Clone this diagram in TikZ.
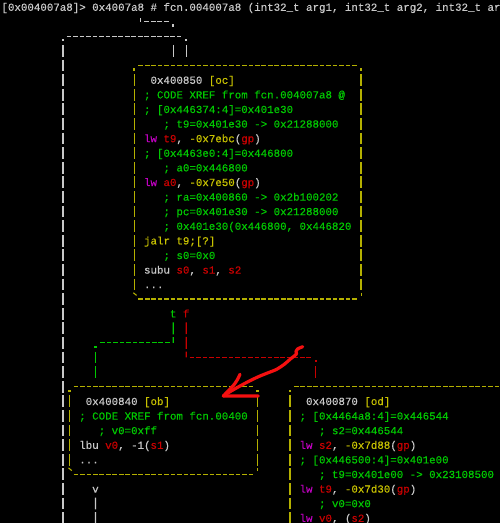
\documentclass[tikz,border=0pt]{standalone}
\usepackage{fontspec}
\newfontfamily\tfont{Liberation Mono}[FakeBold=0.35]
\definecolor{fgc}{RGB}{200,200,200}
\definecolor{ylc}{RGB}{200,194,0}
\definecolor{ybc}{RGB}{180,176,0}
\definecolor{gnc}{RGB}{0,200,0}
\definecolor{rdc}{RGB}{200,0,0}
\definecolor{mgc}{RGB}{190,0,190}
\definecolor{handc}{RGB}{245,16,16}
\newcommand\Rg[1]{\textcolor{rdc}{#1}}
\newcommand\Yl[1]{\textcolor{ylc}{#1}}
\newcommand\Mg[1]{\textcolor{mgc}{#1}}
\newcounter{lnc}
\newcommand\tline[4][fgc]{\stepcounter{lnc}\node[txt,text=#1] (L\arabic{lnc}) at ({#2-0.5},{#3+0.26}) {#4};}
\newcommand\boxborder[2]{%
  \draw[hd,#2] ([xshift=4.0pt]#1.north west) -- ([xshift=-3.24pt]#1.north east);
  \draw[hd,#2] ([xshift=4.0pt]#1.south west) -- ([xshift=-3.24pt]#1.south east);
  \draw[vd,#2] ([yshift=-8.8pt]#1.north west) -- ([yshift=7.3pt]#1.south west);
  \draw[vd,#2] ([yshift=-8.8pt]#1.north east) -- ([yshift=7.3pt]#1.south east);
  \fill[#2] ([shift={(-1.1pt,-5.2pt)}]#1.north west) rectangle ++(2.2pt,2.2pt);
  \fill[#2] ([shift={(-1.1pt,-5.2pt)}]#1.north east) rectangle ++(2.2pt,2.2pt);
  \draw[#2,line width=1.1pt] ([shift={(-1pt,6.3pt)}]#1.south west) -- ([shift={(2.2pt,3.6pt)}]#1.south west);
  \draw[#2,line width=1.2pt] ([yshift=6.3pt]#1.south east) -- ([yshift=3pt]#1.south east);
}
\newcommand\dotat[2]{\fill[#1] ([shift={(-1.1pt,-5.0pt)}]#2) rectangle ++(2.2pt,2.2pt);}
\begin{document}
\begin{tikzpicture}[x=6.48pt,y=-14.6pt,
  txt/.style={font=\tfont\fontsize{10.8pt}{14.6pt}\selectfont, inner sep=0pt, outer sep=0pt, anchor=base west},
  hd/.style={line width=1.3pt, dash pattern=on 4.7pt off 1.78pt},
  vd/.style={line width=1.3pt, dash pattern=on 11.8pt off 2.8pt},
  boxn/.style={rectangle, draw=none, inner sep=0pt, outer sep=0pt}]
\useasboundingbox (0,0) rectangle (77.1605,35.8219);
\fill[black] (0,0) rectangle (77.1605,35.8219);
\clip (0,0) rectangle (77.1605,35.8219);
\begin{scope}[shift={(0.7315,0.4795)}]
% header
\tline{0}{0}{[0x004007a8]> 0x4007a8 \# fcn.004007a8 (int32\_t arg1, int32\_t arg2, int32\_t ar}
% boxes
\node[boxn, minimum width=226.8pt, minimum height=233.6pt] (b1) at (37.5,12) {};
\node[boxn, minimum width=187.92pt, minimum height=87.6pt] (b2) at (24.5,29) {};
\node[boxn, minimum width=298.08pt, minimum height=204.4pt] (b3) at (67,33) {};
\boxborder{b1}{ybc}
\boxborder{b2}{ybc}
\boxborder{b3}{ybc}
% box 1 text
\tline{23}{5}{0x400850 \Yl{[oc]}}
\tline[gnc]{22}{6}{; CODE XREF from fcn.004007a8 @}
\tline[gnc]{22}{7}{; [0x446374:4]=0x401e30}
\tline[gnc]{25}{8}{; t9=0x401e30 -> 0x21288000}
\tline{22}{9}{\Mg{lw} \Rg{t9}, \Yl{-0x7ebc}(\Rg{gp})}
\tline[gnc]{22}{10}{; [0x4463e0:4]=0x446800}
\tline[gnc]{25}{11}{; a0=0x446800}
\tline{22}{12}{\Mg{lw} \Rg{a0}, \Yl{-0x7e50}(\Rg{gp})}
\tline[gnc]{25}{13}{; ra=0x400860 -> 0x2b100202}
\tline[gnc]{25}{14}{; pc=0x401e30 -> 0x21288000}
\tline[gnc]{25}{15}{; 0x401e30(0x446800, 0x446820}
\tline[ylc]{22}{16}{jalr t9;[?]}
\tline[gnc]{25}{17}{; s0=0x0}
\tline{22}{18}{subu \Rg{s0}, \Rg{s1}, \Rg{s2}}
\tline{22}{19}{...}
% box 2 text
\tline{13}{27}{0x400840 \Yl{[ob]}}
\tline[gnc]{12}{28}{; CODE XREF from fcn.00400}
\tline[gnc]{15}{29}{; v0=0xff}
\tline{12}{30}{lbu \Rg{v0}, -1(\Rg{s1})}
\tline{12}{31}{...}
% box 3 text
\tline{47}{27}{0x400870 \Yl{[od]}}
\tline[gnc]{46}{28}{; [0x4464a8:4]=0x446544}
\tline[gnc]{49}{29}{; s2=0x446544}
\tline{46}{30}{\Mg{lw} \Rg{s2}, \Yl{-0x7d88}(\Rg{gp})}
\tline[gnc]{46}{31}{; [0x446500:4]=0x401e00}
\tline[gnc]{49}{32}{; t9=0x401e00 -> 0x23108500}
\tline{46}{33}{\Mg{lw} \Rg{t9}, \Yl{-0x7d30}(\Rg{gp})}
\tline[gnc]{49}{34}{; v0=0x0}
\tline{46}{35}{\Mg{lw} \Rg{v0}, (\Rg{s2})}
% edge labels
\node[txt,text=gnc] (tlab) at (25.5,21.26) {t};
\node[txt,text=rdc] (flab) at (27.5,21.26) {f};
\node[txt,text=fgc] (vlab) at (13.5,33.26) {v};
% coordinates
\coordinate (hA) at (21,1);
\coordinate (hB) at (26,1);
\coordinate (lA) at (9,40);
\coordinate (lB) at (9,2);
\coordinate (lC) at (28,2);
\coordinate (gA) at (26,23);
\coordinate (gB) at (14,23);
\coordinate (rA) at (28,24);
\coordinate (rB) at (48,24);
\coordinate (dA) at (14,40);
% header edge into box 1
\draw[fgc,line width=1.2pt] ([yshift=3.4pt]hA) -- ([yshift=-0.8pt]hA);
\draw[hd,fgc] (hA) ++(0.55,0) -- ([xshift=-3.24pt]hB);
\dotat{fgc}{hB}
\draw[vd,fgc,shorten >=7pt] (hB) ++(0,1.6) -- (hB |- b1.north);
% loop edge into box 1
\draw[vd,fgc] (lB) ++(0,0.6) -- (lA);
\dotat{fgc}{lB}
\draw[hd,fgc] (lB) ++(0.55,0) -- ([xshift=-3.24pt]lC);
\dotat{fgc}{lC}
\draw[vd,fgc,shorten >=7pt] (lC) ++(0,0.6) -- (lC |- b1.north);
% true edge (green)
\draw[vd,gnc] (tlab.south) ++(0,0.34) -- (gA);
\draw[hd,gnc] (gA) ++(-0.55,0) -- ([xshift=3.24pt]gB);
\dotat{gnc}{gB}
\draw[vd,gnc,shorten >=7pt] (gB) ++(0,0.6) -- (gB |- b2.north);
% false edge (red)
\draw[vd,rdc] (flab.south) ++(0,0.34) -- (rA);
\draw[hd,rdc] (rA) ++(0.55,0) -- ([xshift=-3.24pt]rB);
\dotat{rdc}{rB}
\draw[vd,rdc,shorten >=7pt] (rB) ++(0,0.6) -- (rB |- b3.north);
% edge out of box 2
\draw[vd,fgc] (vlab.south) ++(0,0.34) -- (dA);
\end{scope}
% hand-drawn red arrow
\begin{scope}[x=1pt,y=-1pt]
\draw[handc, line width=3.2pt, line cap=round, line join=round]
  plot[smooth, tension=0.5] coordinates {(302.7,346.7) (297.5,349) (296,351.5) (296.5,354) (291,358.5) (284,364.5) (276.7,369.3) (268.3,372.7) (260,376) (250,380.7) (240,386) (231.7,390.7) (223.3,396)};
\draw[handc, line width=3.2pt, line cap=round, line join=round]
  (240,374.3) .. controls (236,383) .. (223.3,396) -- (258.3,396);
\end{scope}
\end{tikzpicture}
\end{document}
